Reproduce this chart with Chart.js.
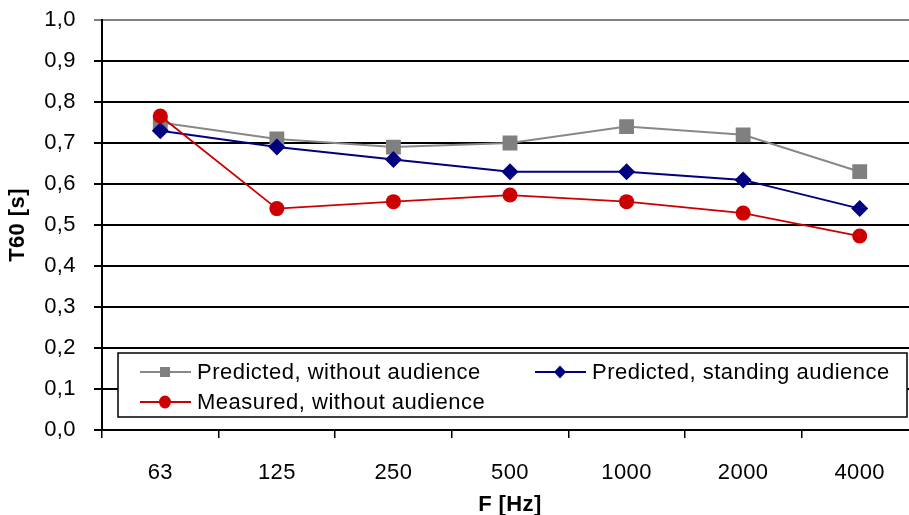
<!DOCTYPE html>
<html>
<head>
<meta charset="utf-8">
<script src="https://cdn.jsdelivr.net/npm/chart.js@4"></script>
<style>
  html, body { margin: 0; padding: 0; background: #fff; overflow: hidden; }
  #wrap { width: 918px; height: 515px; }
</style>
</head>
<body>
<div id="wrap"><canvas id="myChart" width="918" height="515"></canvas></div>
<script>
const frequencies = ['63', '125', '250', '500', '1000', '2000', '4000'];
const predictedNoAudience = [0.75, 0.71, 0.69, 0.70, 0.74, 0.72, 0.63];
const predictedStanding = [0.73, 0.69, 0.66, 0.63, 0.63, 0.61, 0.54];
const measuredNoAudience = [0.766, 0.54, 0.557, 0.573, 0.557, 0.529, 0.473];

const FONT = 'Liberation Sans, Arial, sans-serif';

// original text is a bit wider than Arial, so spread letters slightly
const wideText = {
  id: 'wideText',
  beforeDraw(chart) { chart.ctx.letterSpacing = '0.4px'; }
};

// legend drawn inside the plot area, like the original
const boxLegend = {
  id: 'boxLegend',
  afterDraw(chart) {
    const c = chart.ctx;
    const ds = chart.data.datasets;
    const items = [
      { d: ds[0], x: 140, y: 372 },
      { d: ds[1], x: 535, y: 372 },
      { d: ds[2], x: 140, y: 402 }
    ];
    c.save();
    c.fillStyle = '#fff';
    c.fillRect(118, 353, 789, 64);
    c.strokeStyle = '#000';
    c.lineWidth = 1.5;
    c.strokeRect(118, 353, 789, 64);
    c.font = '22px ' + FONT;
    c.letterSpacing = '0.5px';
    c.textBaseline = 'middle';
    items.forEach(it => {
      c.strokeStyle = it.d.borderColor;
      c.lineWidth = it.d.borderWidth;
      c.beginPath();
      c.moveTo(it.x, it.y);
      c.lineTo(it.x + 51, it.y);
      c.stroke();
      c.fillStyle = it.d.pointBackgroundColor;
      const mx = it.x + 25, my = it.y;
      c.beginPath();
      if (it.d.pointStyle === 'rect') {
        c.rect(mx - 5, my - 5, 10, 10);
      } else if (it.d.pointStyle === 'rectRot') {
        c.moveTo(mx, my - 6.5); c.lineTo(mx + 6, my); c.lineTo(mx, my + 6.5); c.lineTo(mx - 6, my);
        c.closePath();
      } else {
        c.ellipse(mx, my, 6, 6.5, 0, 0, Math.PI * 2);
      }
      c.fill();
      c.fillStyle = '#000';
      c.fillText(it.d.label, it.x + 57, it.y + 1);
    });
    c.restore();
  }
};

new Chart(document.getElementById('myChart').getContext('2d'), {
  type: 'line',
  data: {
    labels: frequencies,
    datasets: [{
      label: 'Predicted, without audience',
      data: predictedNoAudience,
      borderColor: '#888888',
      pointBackgroundColor: '#808080',
      pointBorderColor: '#808080',
      pointStyle: 'rect',
      pointRadius: 10.5,
      pointBorderWidth: 0,
      borderWidth: 2,
      order: 2
    }, {
      label: 'Predicted, standing audience',
      data: predictedStanding,
      borderColor: '#000080',
      pointBackgroundColor: '#000080',
      pointBorderColor: '#000080',
      pointStyle: 'rectRot',
      pointRadius: 8.5,
      pointBorderWidth: 0,
      borderWidth: 2,
      order: 1
    }, {
      label: 'Measured, without audience',
      data: measuredNoAudience,
      borderColor: '#cc0000',
      pointBackgroundColor: '#cc0000',
      pointBorderColor: '#cc0000',
      pointStyle: 'circle',
      pointRadius: 7.5,
      pointBorderWidth: 0,
      borderWidth: 1.8,
      order: 0
    }]
  },
  options: {
    responsive: false,
    animation: false,
    layout: { autoPadding: false, padding: { top: 20, right: 0, left: 0, bottom: 0 } },
    plugins: { legend: { display: false }, tooltip: { enabled: false } },
    scales: {
      x: {
        offset: true,
        afterFit: s => { s.height = 85; },
        grid: { offset: true, drawOnChartArea: false, color: '#000', lineWidth: 1.5, tickLength: 8 },
        border: { color: '#000', width: 2 },
        ticks: { color: '#000', font: { family: FONT, size: 22 }, padding: 22, maxRotation: 0 },
        title: { display: true, text: 'F [Hz]', color: '#000', font: { family: FONT, size: 22, weight: 'bold' }, padding: { top: 0, bottom: -3 } }
      },
      y: {
        min: 0,
        max: 1,
        afterFit: s => { s.width = 102; s.paddingTop = 0; s.paddingBottom = 0; },
        ticks: {
          stepSize: 0.1,
          color: '#000',
          font: { family: FONT, size: 22 },
          padding: 18,
          callback: v => v.toFixed(1).replace('.', ',')
        },
        grid: {
          color: c => (c.tick && c.tick.value >= 0.999) ? '#808080' : '#000',
          lineWidth: 2,
          tickLength: 8
        },
        border: { color: '#000', width: 2 },
        title: { display: true, text: 'T60 [s]', color: '#000', font: { family: FONT, size: 22, weight: 'bold' }, padding: { top: 5, bottom: 0 } }
      }
    }
  },
  plugins: [wideText, boxLegend]
});
</script>
</body>
</html>
